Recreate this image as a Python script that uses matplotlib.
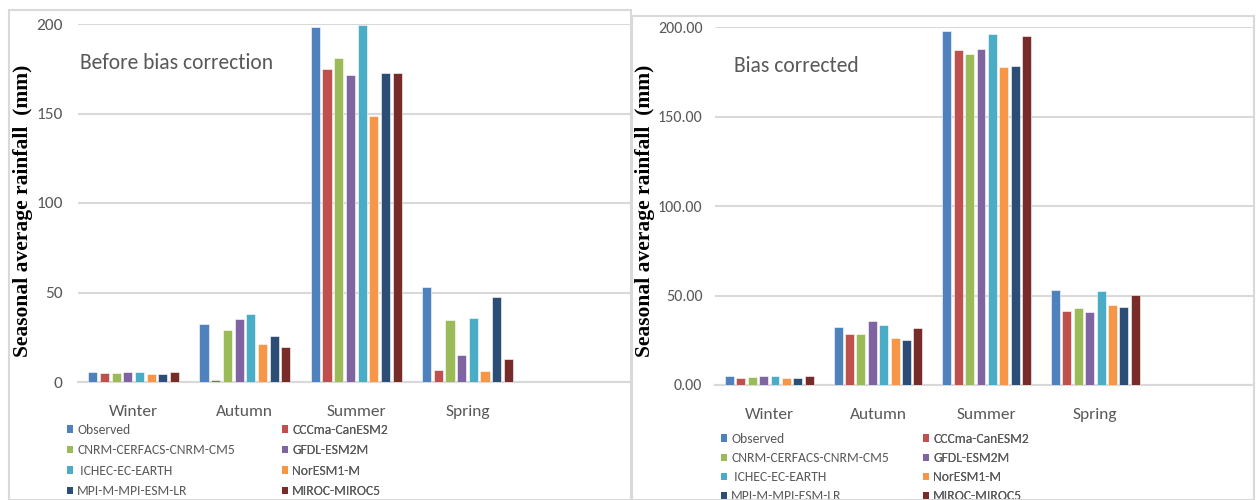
import numpy as np
import matplotlib
matplotlib.use('Agg')
import matplotlib.pyplot as plt
from matplotlib.patches import Rectangle, Patch

seasons = ['Winter', 'Autumn', 'Summer', 'Spring']
models = ['Observed', 'CCCma-CanESM2', 'CNRM-CERFACS-CNRM-CM5', 'GFDL-ESM2M',
          ' ICHEC-EC-EARTH', 'NorESM1-M', 'MPI-M-MPI-ESM-LR', 'MIROC-MIROC5']
colors = ['#4F81BD', '#C0504D', '#9BBB59', '#8064A2',
          '#4BACC6', '#F79646', '#2C4D75', '#772C2A']

# seasonal means (mm), rows follow `models`, columns follow `seasons`
raw = [
    [5.4, 32.6, 198.2, 53.1],
    [4.8, 1.3, 174.9, 6.9],
    [4.8, 28.9, 180.8, 34.5],
    [5.4, 35.2, 171.7, 15.1],
    [5.4, 37.8, 199.4, 35.8],
    [4.3, 21.0, 148.6, 6.1],
    [4.3, 25.5, 172.4, 47.3],
    [5.4, 19.6, 172.4, 12.7],
]
corrected = [
    [5.2, 32.3, 198.0, 53.0],
    [4.1, 28.4, 187.2, 41.2],
    [4.5, 28.4, 185.1, 43.2],
    [5.2, 35.6, 187.7, 40.6],
    [5.2, 33.6, 196.1, 52.4],
    [4.0, 26.5, 178.0, 44.6],
    [4.0, 25.2, 178.6, 43.8],
    [5.2, 31.7, 195.0, 50.3],
]

GRID = '#D9D9D9'
TXT = '#595959'
SANS = ['Carlito', 'Lato', 'DejaVu Sans']
W, H = 1260, 500

fig = plt.figure(figsize=(12.6, 5.0), dpi=100)

# chart frames
fig.add_artist(Rectangle((9 / W, 0), 622 / W, 1 - 10 / H, transform=fig.transFigure,
                         fill=False, ec=GRID, lw=1.5))
fig.add_artist(Rectangle((632 / W, 0), 622 / W, 1 - 16 / H, transform=fig.transFigure,
                         fill=False, ec=GRID, lw=1.5))


def draw_panel(rect, data, title, title_xy, fmt, ysize, ypad, ylab_x, leg_x, leg_top, leg_gap):
    ax = fig.add_axes(rect)
    x = np.arange(len(seasons))
    pitch = 0.105
    for i, vals in enumerate(data):
        ax.bar(x + (i - 3.5) * pitch, vals, width=0.082, color=colors[i],
               edgecolor='white', linewidth=0.4, zorder=3)
    ax.set_xlim(-0.5, 4.46)
    ax.set_ylim(0, 200)
    ax.set_yticks([0, 50, 100, 150, 200])
    ax.set_yticklabels([fmt.format(v) for v in [0, 50, 100, 150, 200]])
    ax.set_xticks(x)
    ax.set_xticklabels(seasons)
    ax.tick_params(length=0, colors=TXT)
    ax.tick_params(axis='x', labelsize=12.5, pad=16.5)
    ax.tick_params(axis='y', labelsize=ysize, pad=ypad)
    for lab in ax.get_xticklabels() + ax.get_yticklabels():
        lab.set_family(SANS)
    ax.grid(axis='y', color=GRID, lw=1.5, zorder=0)
    for s in ['top', 'right', 'left']:
        ax.spines[s].set_visible(False)
    ax.spines['bottom'].set_color(GRID)
    ax.spines['bottom'].set_linewidth(1.5)
    ax.set_facecolor('none')

    fig.text(title_xy[0] / W, 1 - title_xy[1] / H, title, fontsize=15.5,
             family=SANS, color=TXT, va='center', ha='left')
    fig.text(ylab_x / W, 1 - 211 / H, 'Seasonal average rainfall  (mm)',
             rotation=90, family='Liberation Serif', weight='bold', fontsize=15.5,
             color='black', va='center', ha='center')

    handles = [Patch(facecolor=c, edgecolor='none') for c in colors]
    cols = [[0, 2, 4, 6], [1, 3, 5, 7]]
    for k, idx in enumerate(cols):
        leg = ax.legend([handles[i] for i in idx], [models[i] for i in idx],
                        loc='upper left', bbox_to_anchor=(leg_x[k] / W, 1 - leg_top / H),
                        bbox_transform=fig.transFigure, frameon=False,
                        prop={'family': SANS, 'size': 9.8},
                        handlelength=0.45, handleheight=0.45, handletextpad=0.3,
                        labelspacing=leg_gap, borderpad=0, borderaxespad=0)
        for t in leg.get_texts():
            t.set_color(TXT)
        ax.add_artist(leg)
    return ax


draw_panel([78 / W, 1 - 382 / H, (630 - 78) / W, (382 - 24) / H], raw,
           'Before bias correction', (80, 63), '{:.0f}', 12.5, 11, 23,
           (67, 282), 424, 0.62)
draw_panel([715 / W, 1 - 385 / H, (1254 - 715) / W, (385 - 27.3) / H], corrected,
           'Bias corrected', (734, 66), '{:.2f}', 11.5, 9, 645,
           (721, 923), 433, 0.52)

plt.savefig('out.png', dpi=100)
